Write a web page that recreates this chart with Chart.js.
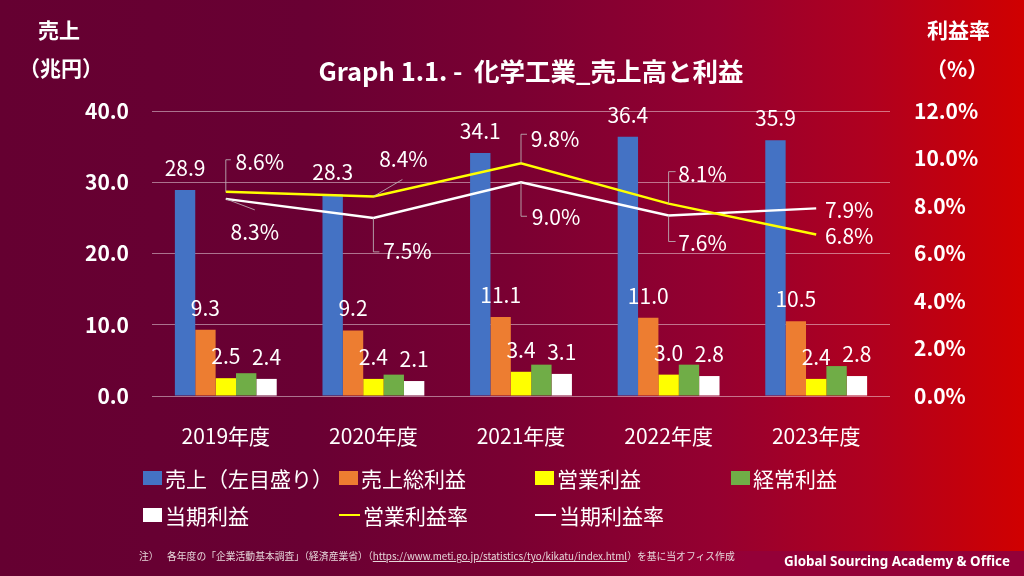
<!DOCTYPE html>
<html lang="ja"><head><meta charset="utf-8">
<script src="https://cdn.jsdelivr.net/npm/chart.js@4.4.1/dist/chart.umd.min.js"></script>
<style>
html,body{margin:0;padding:0;}
body{width:1024px;height:576px;overflow:hidden;position:relative;
  font-family:"Noto Sans CJK JP","Noto Sans",sans-serif;color:#fff;
  background:linear-gradient(90deg,#650031 0%,#690033 30%,#7a0032 50%,#950030 70%,#b0001f 85%,#d00000 100%);}
#band{position:absolute;left:600px;top:551px;width:424px;height:25px;
  background:linear-gradient(90deg,rgba(148,0,56,0) 0%,#940038 35%,#940038 100%);}
#box{position:absolute;left:0;top:0;width:1024px;height:576px;}
.t{position:absolute;white-space:nowrap;line-height:1;}
.b{font-weight:bold;}
#title{left:531px;top:57px;transform:translateX(-50%);font-size:25.5px;font-weight:bold;}
#legend{position:absolute;left:143px;top:466px;width:800px;}
.li{position:absolute;display:flex;align-items:center;font-size:21px;line-height:24px;white-space:nowrap;}
.sw{display:inline-block;margin-right:3px;}
#note{left:139px;top:552px;font-size:9.8px;color:#e6d6da;}
#note2{left:167px;top:552px;font-size:9.8px;color:#e6d6da;}
#note2 u{text-decoration:underline;}
#brand{left:784px;top:555px;font-size:13.4px;font-weight:bold;font-family:"Noto Sans",sans-serif;}
</style></head>
<body>
<div id="band"></div>
<div id="box"><canvas id="c" width="1024" height="576"></canvas></div>
<div class="t b" id="yl1" style="left:38px;top:19px;font-size:21px;">売上</div>
<div class="t b" id="yl2" style="left:19px;top:57px;font-size:21px;">（兆円）</div>
<div class="t b" id="yr1" style="left:927px;top:19px;font-size:21px;">利益率</div>
<div class="t b" id="yr2" style="left:926px;top:58px;font-size:21px;">（%）</div>
<div class="t" id="title">Graph 1.1. -&nbsp; 化学工業_売上高と利益</div>
<div id="legend"></div>
<div class="t" id="note">注）</div>
<div class="t" id="note2">各年度の「企業活動基本調査」（経済産業省）（<u>https://www.meti.go.jp/statistics/tyo/kikatu/index.html</u>）を基に当オフィス作成</div>
<div class="t" id="brand">Global Sourcing Academy &amp; Office</div>
<script>
// ---- data ----
const categories = ['2019年度','2020年度','2021年度','2022年度','2023年度'];
const sales          = [28.9, 28.3, 34.1, 36.4, 35.9];
const grossProfit    = [9.3, 9.2, 11.1, 11.0, 10.5];
const operatingProfit= [2.5, 2.4, 3.4, 3.0, 2.4];
const ordinaryProfit = [3.2, 3.0, 4.4, 4.4, 4.2];
const netProfit      = [2.4, 2.1, 3.1, 2.8, 2.8];
const operatingMargin= [8.6, 8.4, 9.8, 8.1, 6.8];
const netMargin      = [8.3, 7.5, 9.0, 7.6, 7.9];
const leftTicks  = {min:0, max:40, step:10};
const rightTicks = {min:0, max:12, step:2};

// label placement for rate labels (offsets from the point, in px) and leader paths
const opLabelPos = [
  {dx:34, dy:-29, leader:[[0,0],[0,-32],[5,-32]]},
  {dx:30, dy:-37, leader:[[0,0],[29,-17]]},
  {dx:34, dy:-24, leader:[[0,0],[0,-29],[6,-29]]},
  {dx:34, dy:-29, leader:[[0,0],[0,-32],[7,-32]]},
  {dx:33, dy:2, leader:null}
];
const netLabelPos = [
  {dx:29, dy:34, leader:[[0,0],[29,11]]},
  {dx:34, dy:34, leader:[[0,0],[0,34],[6,34]]},
  {dx:35, dy:35, leader:[[0,0],[0,34],[6,34]]},
  {dx:34, dy:28, leader:[[0,0],[0,26],[7,26]]},
  {dx:33, dy:2, leader:null}
];

const labelPlugin = {
  id:'valueLabels',
  afterDatasetsDraw(chart){
    const ctx = chart.ctx;
    ctx.save();
    ctx.font = '21px "Noto Sans CJK JP"';
    ctx.fillStyle = '#ffffff';
    ctx.textAlign = 'center';
    ctx.textBaseline = 'alphabetic';
    chart.data.datasets.forEach((ds,i)=>{
      const meta = chart.getDatasetMeta(i);
      if(ds.type==='bar' && ds.showValue){
        meta.data.forEach((el,j)=>{
          ctx.fillText(ds.data[j].toFixed(1), el.x, el.y-14);
        });
      }
      if(ds.type==='line' && ds.labelPos){
        meta.data.forEach((el,j)=>{
          const p = ds.labelPos[j];
          if(p.leader){
            ctx.save();
            ctx.strokeStyle = 'rgba(190,180,185,0.85)';
            ctx.lineWidth = 1;
            ctx.beginPath();
            p.leader.forEach((q,k)=>{
              const x = el.x+q[0], y = el.y+q[1];
              if(k===0) ctx.moveTo(x,y); else ctx.lineTo(x,y);
            });
            ctx.stroke();
            ctx.restore();
          }
          ctx.fillText(ds.data[j].toFixed(1)+'%', el.x+p.dx, el.y+p.dy+7.5);
        });
      }
    });
    ctx.restore();
  }
};

const gridColor = 'rgba(255,255,255,0.45)';
const tickFontB = {family:'"Noto Sans CJK JP"', size:21, weight:'bold'};

const chart = new Chart(document.getElementById('c'), {
  data:{
    labels: categories,
    datasets:[
      {type:'bar', label:'売上（左目盛り）', data:sales, backgroundColor:'#4472c4', yAxisID:'y', order:2, showValue:true},
      {type:'bar', label:'売上総利益', data:grossProfit, backgroundColor:'#ed7d31', yAxisID:'y', order:2, showValue:true},
      {type:'bar', label:'営業利益', data:operatingProfit, backgroundColor:'#ffff00', yAxisID:'y', order:2, showValue:true},
      {type:'bar', label:'経常利益', data:ordinaryProfit, backgroundColor:'#70ad47', yAxisID:'y', order:2, showValue:false},
      {type:'bar', label:'当期利益', data:netProfit, backgroundColor:'#ffffff', yAxisID:'y', order:2, showValue:true},
      {type:'line', label:'営業利益率', data:operatingMargin, borderColor:'#ffff00', backgroundColor:'#ffff00', borderWidth:2.5, pointRadius:0, tension:0, yAxisID:'y1', order:0, labelPos:opLabelPos},
      {type:'line', label:'当期利益率', data:netMargin, borderColor:'#ffffff', backgroundColor:'#ffffff', borderWidth:2.5, pointRadius:0, tension:0, yAxisID:'y1', order:1, labelPos:netLabelPos}
    ]
  },
  options:{
    responsive:false,
    animation:false,
    devicePixelRatio:1,
    layout:{padding:{left:80, right:40, top:111, bottom:100}},
    datasets:{bar:{barPercentage:1.0, categoryPercentage:0.69}},
    plugins:{legend:{display:false}, tooltip:{enabled:false}, title:{display:false}},
    scales:{
      x:{
        grid:{display:false}, border:{display:false},
        ticks:{color:'#ffffff', font:{family:'"Noto Sans CJK JP"', size:21}, padding:19, maxRotation:0},
        afterFit(s){ s.height = 80; }
      },
      y:{
        position:'left', min:leftTicks.min, max:leftTicks.max,
        grid:{color:gridColor, lineWidth:1, drawTicks:false},
        border:{display:false},
        ticks:{stepSize:leftTicks.step, color:'#ffffff', font:tickFontB, padding:23, callback:v=>v.toFixed(1)},
        afterFit(s){ s.width = 72; }
      },
      y1:{
        position:'right', min:rightTicks.min, max:rightTicks.max,
        grid:{drawOnChartArea:false, drawTicks:false},
        border:{display:false},
        ticks:{stepSize:rightTicks.step, color:'#ffffff', font:tickFontB, padding:24, callback:v=>v.toFixed(1)+'%'},
        afterFit(s){ s.width = 94; }
      }
    }
  },
  plugins:[labelPlugin]
});

// HTML legend built from the chart datasets
(function(){
  const lg = document.getElementById('legend');
  chart.data.datasets.forEach((ds,i)=>{
    const col = i % 4, row = Math.floor(i/4);
    const item = document.createElement('div');
    item.className = 'li';
    item.style.left = (col*196)+'px';
    item.style.top = (row*37)+'px';
    const sw = document.createElement('span');
    sw.className = 'sw';
    if(ds.type==='bar'){
      sw.style.width='19px'; sw.style.height='14px'; sw.style.background=ds.backgroundColor;
    } else {
      sw.style.width='21px'; sw.style.height='2px'; sw.style.background=ds.borderColor;
    }
    item.appendChild(sw);
    const tx = document.createElement('span');
    tx.textContent = ds.label;
    item.appendChild(tx);
    lg.appendChild(item);
  });
})();
</script>
</body></html>
